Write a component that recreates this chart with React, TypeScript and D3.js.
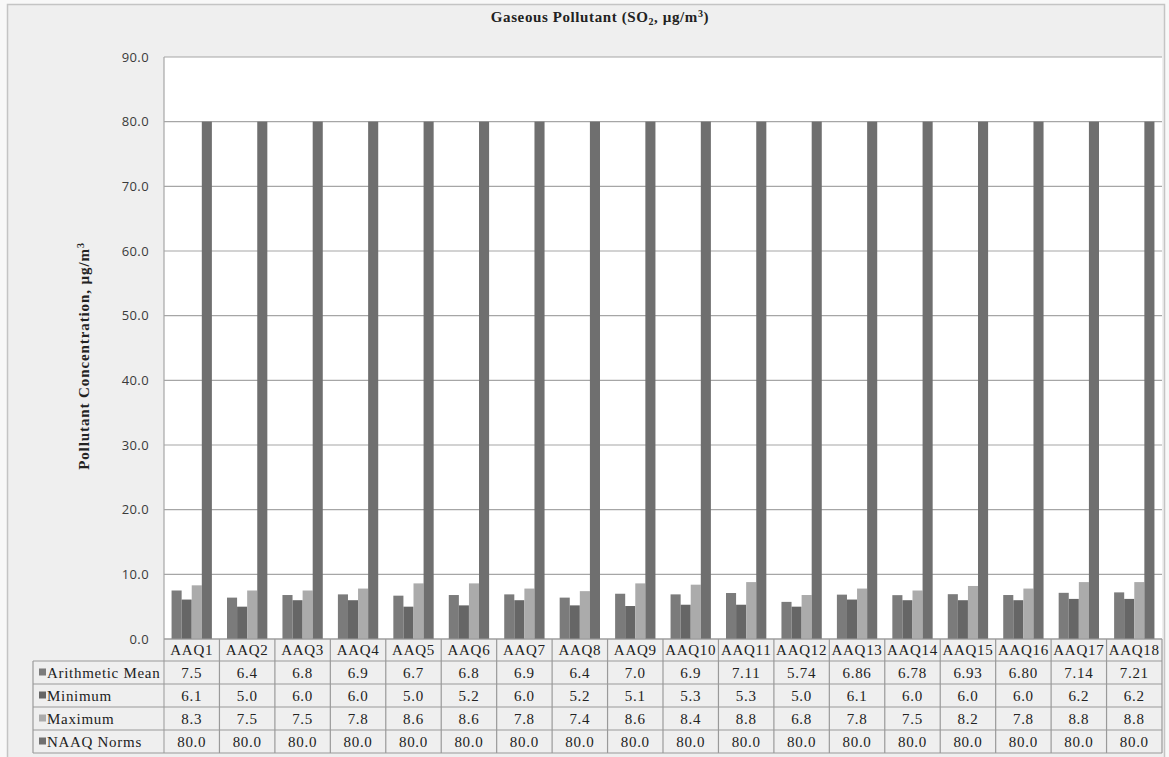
import React from "react";
import * as d3 from "d3";

const categories = ["AAQ1","AAQ2","AAQ3","AAQ4","AAQ5","AAQ6","AAQ7","AAQ8","AAQ9","AAQ10","AAQ11","AAQ12","AAQ13","AAQ14","AAQ15","AAQ16","AAQ17","AAQ18"];
const meanValues = [7.5,6.4,6.8,6.9,6.7,6.8,6.9,6.4,7.0,6.9,7.11,5.74,6.86,6.78,6.93,6.80,7.14,7.21];
const meanLabels = ["7.5","6.4","6.8","6.9","6.7","6.8","6.9","6.4","7.0","6.9","7.11","5.74","6.86","6.78","6.93","6.80","7.14","7.21"];
const minValues = [6.1,5.0,6.0,6.0,5.0,5.2,6.0,5.2,5.1,5.3,5.3,5.0,6.1,6.0,6.0,6.0,6.2,6.2];
const maxValues = [8.3,7.5,7.5,7.8,8.6,8.6,7.8,7.4,8.6,8.4,8.8,6.8,7.8,7.5,8.2,7.8,8.8,8.8];
const normValues = [80,80,80,80,80,80,80,80,80,80,80,80,80,80,80,80,80,80];
const yTicks = [0,10,20,30,40,50,60,70,80,90];

const seriesNames = ["Arithmetic Mean","Minimum","Maximum","NAAQ Norms"];
const seriesColors = ["#7b7b7b","#666666","#ababab","#6f6f6f"];

export default function App() {
  const W = 1169, H = 757;
  const plotL = 164, plotR = 1162, plotT = 57, plotB = 639;
  const tableL = 33;
  const rowEdges = [639, 661, 684, 707, 730, 753];

  const series = [meanValues, minValues, maxValues, normValues];
  const labels = [
    meanLabels,
    minValues.map((v) => v.toFixed(1)),
    maxValues.map((v) => v.toFixed(1)),
    normValues.map((v) => v.toFixed(1)),
  ];

  const x = d3.scaleBand<string>().domain(categories).range([plotL, plotR]).padding(0);
  const bw = x.bandwidth();
  const gap = bw * 1.5 / 5.5;
  const xs = d3.scaleBand<number>().domain([0,1,2,3]).range([gap/2, bw - gap/2]).padding(0);
  const y = d3.scaleLinear().domain([0, 90]).range([plotB, plotT]);

  const serif = "'Liberation Serif', 'Times New Roman', serif";
  const sans = "'Open Sans', 'DejaVu Sans', sans-serif";
  const gridColor = "#a6a6a6";
  const tableColor = "#9a9a9a";
  const cellFont = { fontFamily: serif, fontSize: 15, letterSpacing: 0.7, fill: "#222" } as const;

  return (
    <svg width={W} height={H} style={{ position: "absolute", left: 0, top: 0, display: "block" }}>
      <rect x={0} y={0} width={W} height={H} fill="#f8f8f8" />
      <rect x={7.5} y={4.5} width={1157} height={H + 10} fill="#efefef" stroke="#c4c4c4" strokeWidth={1.5} />
      {/* title */}
      <text x={600} y={22} textAnchor="middle" fontFamily={serif} fontWeight="bold" fontSize={15} letterSpacing={0.6} fill="#222">
        Gaseous Pollutant (SO<tspan fontSize={10} dy={3}>2</tspan><tspan dy={-3}>, µg/m</tspan><tspan fontSize={10} dy={-5}>3</tspan><tspan dy={5}>)</tspan>
      </text>
      {/* plot area */}
      <rect x={plotL} y={plotT} width={plotR - plotL} height={plotB - plotT} fill="#ffffff" />
      {yTicks.map((t) => (
        <g key={t}>
          <line x1={plotL} x2={plotR} y1={y(t)} y2={y(t)} stroke={gridColor} strokeWidth={1.2} />
          <text x={149} y={y(t) + 4.5} textAnchor="end" fontFamily={sans} fontSize={13} letterSpacing={0.4} fill="#3a3a3a">{t.toFixed(1)}</text>
        </g>
      ))}
      <line x1={plotL} x2={plotL} y1={plotT} y2={rowEdges[5]} stroke={gridColor} strokeWidth={1.2} />
      {/* bars */}
      {series.map((vals, si) => (
        <g key={si}>
          {vals.map((v, ci) => (
            <rect key={ci}
              x={(x(categories[ci]) as number) + (xs(si) as number)}
              y={y(v)}
              width={xs.bandwidth()}
              height={plotB - y(v)}
              fill={seriesColors[si]} />
          ))}
        </g>
      ))}
      {/* y axis title */}
      <text transform={`translate(89,${(plotT + plotB) / 2 + 8}) rotate(-90)`} textAnchor="middle" fontFamily={serif} fontWeight="bold" fontSize={15} letterSpacing={0.9} fill="#222">
        Pollutant Concentration, µg/m<tspan fontSize={10} dy={-5}>3</tspan>
      </text>
      {/* table */}
      {rowEdges.map((ry, i) => (
        <line key={i} x1={i === 0 ? plotL : tableL} x2={plotR} y1={ry} y2={ry} stroke={tableColor} strokeWidth={1.2} />
      ))}
      <line x1={tableL} x2={tableL} y1={rowEdges[1]} y2={rowEdges[5]} stroke={tableColor} strokeWidth={1.2} />
      {categories.map((c) => (
        <line key={c} x1={(x(c) as number) + bw} x2={(x(c) as number) + bw} y1={rowEdges[0]} y2={rowEdges[5]} stroke={tableColor} strokeWidth={1.2} />
      ))}
      {categories.map((c) => (
        <text key={c} x={(x(c) as number) + bw / 2} y={(rowEdges[0] + rowEdges[1]) / 2 + 5} textAnchor="middle" {...cellFont}>{c}</text>
      ))}
      {seriesNames.map((n, si) => {
        const cy = (rowEdges[si + 1] + rowEdges[si + 2]) / 2;
        return (
          <g key={n}>
            <rect x={39} y={cy - 4} width={7} height={7} fill={seriesColors[si]} />
            <text x={47} y={cy + 5} {...cellFont}>{n}</text>
            {labels[si].map((l, ci) => (
              <text key={ci} x={(x(categories[ci]) as number) + bw / 2} y={cy + 5} textAnchor="middle" {...cellFont}>{l}</text>
            ))}
          </g>
        );
      })}
    </svg>
  );
}
